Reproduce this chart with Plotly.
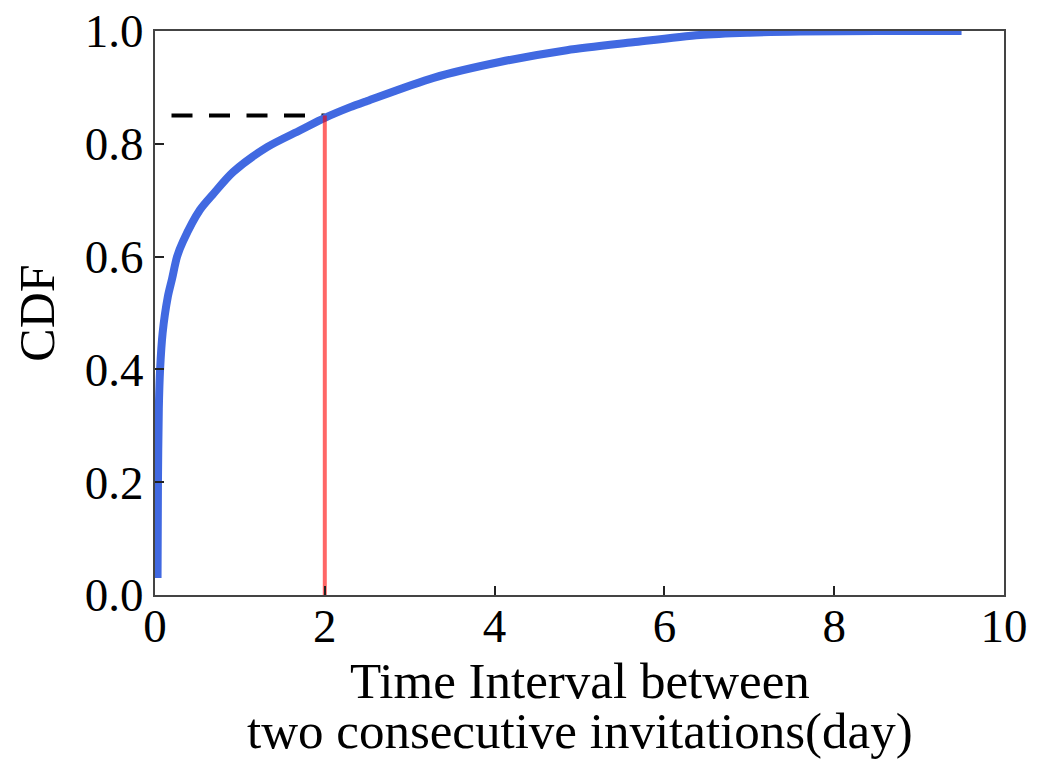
import plotly.graph_objects as go

# CDF curve
interval_days = [0.03, 0.035, 0.045, 0.06, 0.09, 0.15, 0.20, 0.26, 0.33, 0.53, 0.68,
                 0.92, 1.32, 1.71, 2.0, 2.30, 2.50, 3.28, 4.06, 4.85, 5.63, 6.42,
                 7.0, 7.6, 8.5, 9.5]
cdf_values = [0.03, 0.20, 0.33, 0.40, 0.465, 0.528, 0.56, 0.60, 0.627, 0.683, 0.71,
              0.75, 0.794, 0.824, 0.846, 0.865, 0.876, 0.917, 0.945, 0.966, 0.98, 0.993,
              0.997, 0.999, 1.0, 1.0]

# reference marker
marker_x = 2.0
marker_cdf = 0.85

x_ticks = [0, 2, 4, 6, 8, 10]
y_ticks = [0.0, 0.2, 0.4, 0.6, 0.8, 1.0]

x_title_lines = ["Time Interval between", "two consecutive invitations(day)"]

FONT = "Liberation Serif, Times New Roman, serif"

fig = go.Figure()
fig.add_trace(go.Scatter(x=[0, marker_x], y=[marker_cdf, marker_cdf], mode="lines",
                         line=dict(color="black", width=4, dash="0px,16.5px,21px,0px"),
                         showlegend=False, hoverinfo="skip"))
fig.add_trace(go.Scatter(x=interval_days, y=cdf_values, mode="lines",
                         line=dict(color="royalblue", width=8, shape="spline", smoothing=0.8),
                         showlegend=False))
fig.add_trace(go.Scatter(x=[marker_x, marker_x], y=[0, marker_cdf], mode="lines",
                         line=dict(color="rgba(255,0,0,0.6)", width=4),
                         showlegend=False, hoverinfo="skip"))

axis_common = dict(showgrid=False, zeroline=False, showline=True, mirror=True,
                   linecolor="#444", linewidth=2, ticks="inside", ticklen=9,
                   tickwidth=2, tickcolor="#222", automargin=False,
                   ticklabeloverflow="allow",
                   tickfont=dict(family=FONT, size=47, color="black"))

fig.update_xaxes(range=[0, 10], tickvals=x_ticks, ticktext=[str(v) for v in x_ticks],
                 ticklabelstandoff=-11, **axis_common)
fig.update_yaxes(range=[0, 1], tickvals=y_ticks, ticktext=[f"{v:.1f}" for v in y_ticks],
                 title=dict(text="CDF", font=dict(family=FONT, size=50, color="black"),
                            standoff=14),
                 **axis_common)

for i, line in enumerate(x_title_lines):
    fig.add_annotation(text=line, xref="paper", yref="paper", x=0.5, y=0,
                       yshift=-(56 + 50 * i), xanchor="center", yanchor="top",
                       showarrow=False,
                       font=dict(family=FONT, size=51, color="black"))

fig.update_layout(width=1043, height=764, plot_bgcolor="white", paper_bgcolor="white",
                  margin=dict(l=147, r=47, t=23, b=177), showlegend=False)

fig.write_html("out.html")
